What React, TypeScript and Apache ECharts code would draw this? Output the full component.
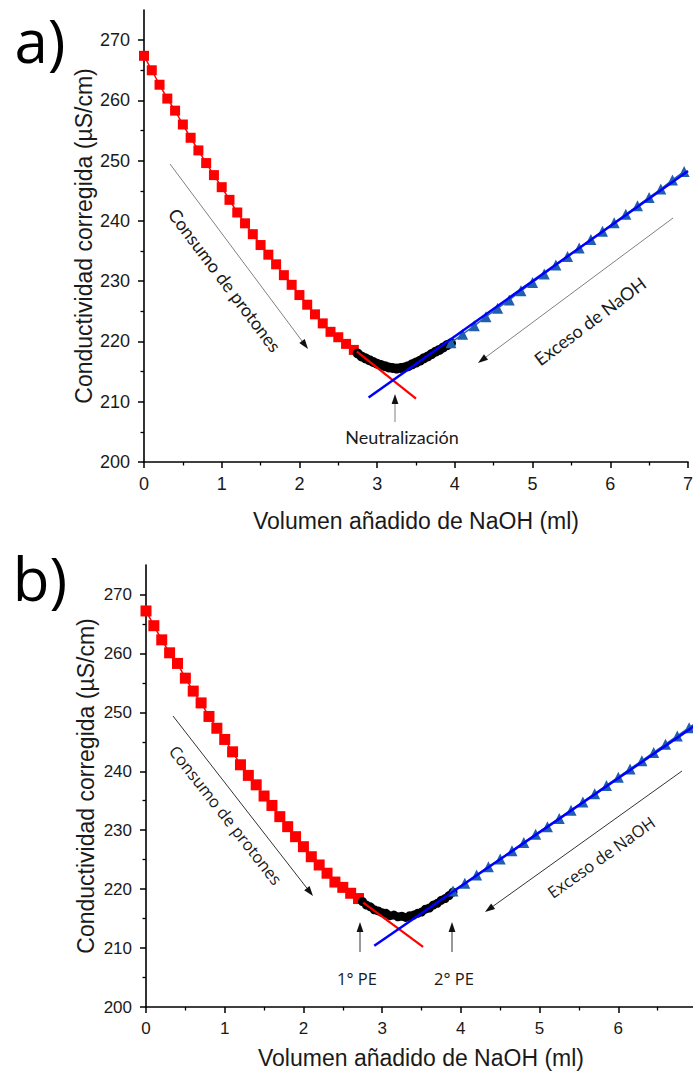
import React, { useEffect, useRef } from "react";
import * as echarts from "echarts";

// ---------- data ----------
const yTickValues = [200, 210, 220, 230, 240, 250, 260, 270];
const xTickValuesBottom = [0, 1, 2, 3, 4, 5, 6];

const redX = [0, 0.1, 0.2, 0.3, 0.4, 0.5, 0.6, 0.7, 0.8, 0.9, 1.0, 1.1, 1.2, 1.3, 1.4, 1.5, 1.6, 1.7, 1.8, 1.9, 2.0, 2.1, 2.2, 2.3, 2.4, 2.5, 2.6, 2.7];
const redTopY = [267.4, 265.0, 262.6, 260.3, 258.3, 256.0, 253.8, 251.7, 249.6, 247.6, 245.6, 243.5, 241.4, 239.6, 237.8, 236.0, 234.4, 232.8, 231.0, 229.4, 227.7, 226.1, 224.5, 223.0, 221.6, 220.7, 219.6, 218.6];
const redBotY = [267.2, 264.7, 262.3, 260.1, 258.3, 255.8, 253.6, 251.6, 249.3, 247.3, 245.4, 243.3, 241.1, 239.3, 237.7, 235.8, 234.2, 232.3, 230.6, 228.9, 227.2, 225.5, 224.1, 222.7, 221.2, 220.3, 219.3, 218.4];

const blackTopX = [2.75, 2.8, 2.85, 2.9, 2.95, 3.0, 3.05, 3.1, 3.15, 3.2, 3.25, 3.3, 3.35, 3.4, 3.45, 3.5, 3.55, 3.6, 3.65, 3.7, 3.75, 3.8, 3.85, 3.9, 3.95];
const blackTopY = [218.0, 217.5, 217.2, 216.9, 216.6, 216.3, 216.1, 215.9, 215.7, 215.6, 215.5, 215.6, 215.7, 215.9, 216.2, 216.5, 216.8, 217.2, 217.5, 217.9, 218.3, 218.6, 219.0, 219.4, 219.7];
const blackBotX = [2.75, 2.8, 2.85, 2.9, 2.95, 3.0, 3.05, 3.1, 3.15, 3.2, 3.25, 3.3, 3.35, 3.4, 3.45, 3.5, 3.55, 3.6, 3.65, 3.7, 3.75, 3.8, 3.85, 3.9];
const blackBotY = [217.9, 217.3, 217.0, 216.5, 216.3, 216.0, 215.9, 215.5, 215.6, 215.3, 215.4, 215.2, 215.5, 215.6, 215.9, 216.1, 216.6, 216.8, 217.3, 217.6, 218.1, 218.4, 218.9, 219.5];

const blueTopX = [3.95, 4.1, 4.25, 4.4, 4.55, 4.7, 4.85, 5.0, 5.15, 5.3, 5.45, 5.6, 5.75, 5.9, 6.05, 6.2, 6.35, 6.5, 6.65, 6.8, 6.95];
const blueTopY = [219.8, 221.2, 222.6, 224.1, 225.5, 226.9, 228.4, 229.8, 231.2, 232.7, 234.1, 235.5, 236.9, 238.3, 239.7, 241.1, 242.5, 243.9, 245.3, 246.8, 248.2];
const blueBotX = [3.9, 4.05, 4.2, 4.35, 4.5, 4.65, 4.8, 4.95, 5.1, 5.25, 5.4, 5.55, 5.7, 5.85, 6.0, 6.15, 6.3, 6.45, 6.6, 6.75, 6.9, 7.05];
const blueBotY = [219.7, 221.0, 222.4, 223.8, 225.1, 226.5, 227.9, 229.3, 230.6, 232.0, 233.4, 234.8, 236.2, 237.6, 239.0, 240.4, 241.8, 243.2, 244.6, 246.0, 247.4, 248.8];

const fitRedTopX = [2.74, 3.5];
const fitRedTopY = [218.3, 210.5];
const fitBlueTopX = [2.89, 7.0];
const fitBlueTopY = [210.7, 248.3];
const fitRedBotX = [2.76, 3.52];
const fitRedBotY = [217.7, 210.2];
const fitBlueBotX = [2.9, 7.0];
const fitBlueBotY = [210.4, 248.0];

const zip = (xs: number[], ys: number[]) => xs.map((x, i) => [x, ys[i]]);

// ---------- helpers ----------
const AXIS_FONT = "'Liberation Sans', Arial, sans-serif";

function makeX(gridIndex: number, fontSize: number, labelValues?: number[]) {
  const axisLabel: any = { fontSize, fontFamily: AXIS_FONT, color: "#1a1a1a", margin: 13 };
  if (labelValues) axisLabel.customValues = labelValues;
  return {
    type: "value",
    gridIndex,
    min: 0,
    max: 7,
    interval: 1,
    axisLine: { show: true, onZero: false, lineStyle: { color: "#000", width: 1.6 } },
    axisTick: { show: true, inside: false, length: 6, lineStyle: { color: "#000", width: 1.5 } },
    minorTick: { show: true, splitNumber: 2, length: 3.5, lineStyle: { color: "#000", width: 1.3 } },
    splitLine: { show: false },
    axisLabel,
  };
}

function makeY(gridIndex: number, fontSize: number) {
  return {
    type: "value",
    gridIndex,
    min: 200,
    max: 275,
    interval: 10,
    axisLine: { show: true, onZero: false, lineStyle: { color: "#000", width: 1.6 } },
    axisTick: { show: true, inside: false, length: 6, customValues: yTickValues, lineStyle: { color: "#000", width: 1.5 } },
    minorTick: { show: true, splitNumber: 2, length: 3.5, lineStyle: { color: "#000", width: 1.3 } },
    splitLine: { show: false },
    axisLabel: { fontSize, fontFamily: AXIS_FONT, color: "#1a1a1a", margin: 14, customValues: yTickValues },
  };
}

function makeSeries(idx: number, red: number[][], black: number[][], blue: number[][], fr: number[][], fb: number[][], sq: number, dot: number, tri: number) {
  return [
    {
      type: "line", xAxisIndex: idx, yAxisIndex: idx, data: red,
      symbol: "rect", symbolSize: sq, itemStyle: { color: "#ff0000" },
      lineStyle: { color: "#ff0000", width: 1.5 }, z: 2,
    },
    {
      type: "line", xAxisIndex: idx, yAxisIndex: idx, data: black,
      symbol: "circle", symbolSize: dot, itemStyle: { color: "#000" },
      lineStyle: { color: "#000", width: 1.5 }, z: 3,
    },
    {
      type: "line", xAxisIndex: idx, yAxisIndex: idx, data: blue,
      symbol: "triangle", symbolSize: tri, itemStyle: { color: "#1f5fae" },
      lineStyle: { color: "#1f5fae", width: 1.5 }, z: 4,
    },
    {
      type: "line", xAxisIndex: idx, yAxisIndex: idx, data: fr,
      symbol: "none", lineStyle: { color: "#ff0000", width: 2.2 }, z: 5,
    },
    {
      type: "line", xAxisIndex: idx, yAxisIndex: idx, data: fb,
      symbol: "none", lineStyle: { color: "#0000ff", width: 2.5 }, z: 6,
    },
  ];
}

function arrow(x1: number, y1: number, x2: number, y2: number, lineColor: string, headColor: string) {
  const ang = Math.atan2(y2 - y1, x2 - x1);
  const L = 10, W = 3.4;
  const bx = x2 - L * Math.cos(ang), by = y2 - L * Math.sin(ang);
  const px = -Math.sin(ang) * W, py = Math.cos(ang) * W;
  return [
    { type: "line", shape: { x1, y1, x2: bx, y2: by }, style: { stroke: lineColor, lineWidth: 1 }, z: 10 },
    { type: "polygon", shape: { points: [[x2, y2], [bx + px, by + py], [bx - px, by - py]] }, style: { fill: headColor }, z: 10 },
  ];
}

function txt(text: string, x: number, y: number, font: string, rotDeg = 0, fill = "#1a1a1a") {
  return {
    type: "text", x, y, rotation: (rotDeg * Math.PI) / 180, z: 10,
    style: { text, font, fill, align: "center", verticalAlign: "middle" },
  };
}

export default function App() {
  const ref = useRef<HTMLDivElement>(null);

  useEffect(() => {
    if (!ref.current) return;
    const chart = echarts.init(ref.current, undefined, { renderer: "svg" });

    const topFont = "18px Lato, 'Open Sans', sans-serif";
    const botFont = "16.5px 'Open Sans', Lato, sans-serif";
    const titleFont = `23px ${AXIS_FONT}`;

    const graphic: any[] = [
      txt("a)", 40, 40, "60px 'Open Sans', sans-serif", 0, "#000"),
      txt("b)", 40, 578, "60px 'Open Sans', sans-serif", 0, "#000"),
      txt("Conductividad corregida (µS/cm)", 84, 236, titleFont, 90),
      txt("Volumen añadido de NaOH (ml)", 416, 521, titleFont),
      txt("Conductividad corregida (µS/cm)", 86, 786, titleFont, 90),
      txt("Volumen añadido de NaOH (ml)", 421, 1058, titleFont),
      // top annotations
      ...arrow(170, 164, 308, 349, "#808080", "#111"),
      txt("Consumo de protones", 225, 280, topFont, -53),
      ...arrow(673, 218, 478, 363, "#808080", "#111"),
      txt("Exceso de NaOH", 590, 321, topFont, 36.8),
      ...arrow(395, 422, 395, 394, "#808080", "#111"),
      txt("Neutralización", 402, 437, topFont),
      // bottom annotations
      ...arrow(173, 716, 313, 896, "#333", "#111"),
      txt("Consumo de protones", 226, 815, botFont, -52),
      ...arrow(682, 771, 485, 912, "#333", "#111"),
      txt("Exceso de NaOH", 601, 857, botFont, 35.5),
      ...arrow(360, 952, 360, 922, "#333", "#111"),
      txt("1° PE", 357, 978, botFont),
      ...arrow(452, 952, 452, 922, "#333", "#111"),
      txt("2° PE", 454, 978, botFont),
    ];

    chart.setOption({
      animation: false,
      backgroundColor: "#ffffff",
      grid: [
        { left: 144, top: 10, width: 544, height: 452 },
        { left: 146, top: 565, width: 551, height: 442 },
      ],
      xAxis: [makeX(0, 18), makeX(1, 17, xTickValuesBottom)],
      yAxis: [makeY(0, 18), makeY(1, 17)],
      series: [
        ...makeSeries(0, zip(redX, redTopY), zip(blackTopX, blackTopY), zip(blueTopX, blueTopY), zip(fitRedTopX, fitRedTopY), zip(fitBlueTopX, fitBlueTopY), 10, 10, 11),
        ...makeSeries(1, zip(redX, redBotY), zip(blackBotX, blackBotY), zip(blueBotX, blueBotY), zip(fitRedBotX, fitRedBotY), zip(fitBlueBotX, fitBlueBotY), 11, 9, 11),
      ],
      graphic,
    } as any);

    return () => chart.dispose();
  }, []);

  return (
    <div style={{ position: "absolute", left: 0, top: 0, width: 693, height: 1080, overflow: "hidden", background: "#fff" }}>
      <div ref={ref} style={{ width: 740, height: 1080 }} />
    </div>
  );
}
